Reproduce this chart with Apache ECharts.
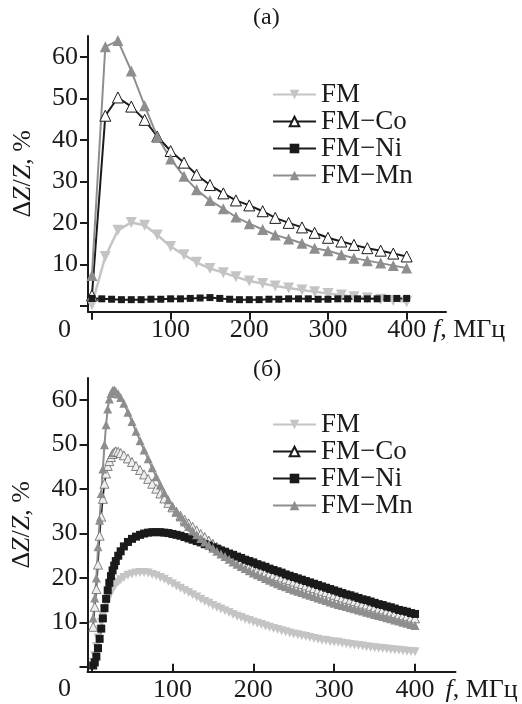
<!DOCTYPE html>
<html>
<head>
<meta charset="utf-8">
<script src="https://cdn.jsdelivr.net/npm/echarts@6/dist/echarts.min.js"></script>
<style>
  html, body { margin: 0; padding: 0; background: #fff; }
  #main { width: 522px; height: 704px; }
</style>
</head>
<body>
<div id="main"></div>
<script>
// ---- panel (a): 25 points every ~16.7 MHz, FM-Ni every 12.5 MHz
const topFreq = [0,17,33,50,67,83,100,117,133,150,167,183,200,217,233,250,267,283,300,317,333,350,367,383,400];
const topFM   = [0.3,11.9,18.2,20.1,19.4,17.1,14.3,12.3,10.5,9,8,7,6,5.4,4.8,4.3,3.8,3.4,3.0,2.6,2.2,1.9,1.6,1.3,1.0];
const topCo   = [2.5,45.8,50.2,48,44.8,40.8,37.3,34.5,31.6,29.1,27.1,25.4,24.2,22.8,21.2,20,18.9,17.6,16.4,15.5,14.7,13.9,13.3,12.6,11.9];
const topMn   = [7.3,62.4,63.9,56.6,48.2,40.8,35.4,31.2,28,25.4,23.4,21.4,19.8,18.4,17.1,16.1,15.1,13.9,13.3,12.3,11.5,10.9,10.3,9.7,9.1];
const topNiFreq = [0,12.5,25,37.5,50,62.5,75,87.5,100,112.5,125,137.5,150,162.5,175,187.5,200,212.5,225,237.5,250,262.5,275,287.5,300,312.5,325,337.5,350,362.5,375,387.5,400];
const topNi   = [1.8,1.7,1.6,1.5,1.5,1.5,1.6,1.6,1.7,1.7,1.8,1.9,2.0,1.8,1.6,1.5,1.5,1.5,1.6,1.6,1.7,1.7,1.7,1.6,1.6,1.7,1.7,1.7,1.7,1.7,1.8,1.8,1.8];

// ---- panel (б): dense sweep
const botFreq = [2,4,6,8,10,12,14,16,18,20,22,24,26,28,30,
  33,36,
  40,45,50,55,60,65,70,75,80,85,90,95,
  100,105,110,115,120,125,130,135,140,145,
  150,155,160,165,170,175,180,185,190,195,
  200,205,210,215,220,225,230,235,240,245,
  250,255,260,265,270,275,280,285,290,295,
  300,305,310,315,320,325,330,335,340,345,
  350,355,360,365,370,375,380,385,390,395,
  400];
const botFM = [1,2.5,4.5,6.5,8.3,10,11.5,12.8,14,15,15.9,16.7,17.4,18,18.5,
  19.1,19.6,
  20.1,20.6,20.9,21.1,21.2,21.2,21.1,20.8,20.5,20.1,19.7,19.2,
  18.7,18.2,17.7,17.2,16.7,16.2,15.7,15.2,14.7,14.3,
  13.8,13.4,13,12.6,12.2,11.8,11.4,11.1,10.7,10.4,
  10.1,9.8,9.5,9.2,8.9,8.6,8.4,8.1,7.9,7.6,
  7.4,7.2,7,6.8,6.6,6.4,6.2,6,5.9,5.7,
  5.6,5.5,5.3,5.2,5,4.9,4.8,4.7,4.5,4.4,
  4.3,4.2,4.1,4,3.9,3.8,3.7,3.6,3.5,3.45,
  3.4];
const botCo = [9,13.5,17.5,23,29.5,33.8,37.8,41.2,43.5,45.2,46.3,47.2,47.9,48.3,48.5,
  48.4,48.1,
  47.6,46.9,46.1,45.2,44.3,43.3,42.3,41.2,40.1,39,37.9,36.9,
  35.9,34.9,34,33.1,32.3,31.5,30.7,29.9,29.2,28.4,
  27.7,27,26.4,25.8,25.2,24.6,24.1,23.6,23.1,22.6,
  22.2,21.9,21.6,21.3,21,20.7,20.4,20.1,19.8,19.5,
  19.2,18.9,18.6,18.3,18,17.7,17.4,17.1,16.8,16.5,
  16.2,15.9,15.6,15.3,15.1,14.8,14.5,14.2,14,13.7,
  13.4,13.1,12.9,12.6,12.4,12.1,11.8,11.6,11.4,11.1,
  10.9];
const botNi = [0.3,1,2.3,4.2,6.3,8.6,10.9,13.2,15.3,17.2,18.9,20.4,21.7,22.8,23.8,
  25,26,
  27.1,28.1,28.8,29.3,29.7,30,30.2,30.3,30.3,30.3,30.2,30.1,
  29.9,29.7,29.5,29.2,28.9,28.6,28.3,28,27.6,27.3,
  26.9,26.6,26.2,25.9,25.5,25.2,24.8,24.5,24.1,23.8,
  23.5,23.1,22.8,22.5,22.1,21.8,21.5,21.2,20.8,20.5,
  20.2,19.9,19.6,19.3,19,18.7,18.4,18.1,17.8,17.5,
  17.2,16.9,16.6,16.3,16.1,15.8,15.5,15.2,15,14.7,
  14.4,14.1,13.9,13.6,13.4,13.1,12.8,12.6,12.4,12.1,
  11.9];
const botMn = [11,15.5,20,27,33,39,44.5,50,54.5,58,60.3,61.5,62.2,62.3,62,
  61.4,60.6,
  59.3,57.3,55.2,53,50.9,48.8,46.8,44.8,42.8,40.9,39.2,37.6,
  36.2,34.9,33.7,32.6,31.6,30.6,29.7,28.9,28.1,27.4,
  26.7,26,25.4,24.8,24.2,23.6,23.1,22.6,22.1,21.6,
  21.1,20.7,20.3,19.9,19.5,19.1,18.7,18.3,18,17.6,
  17.3,17,16.7,16.4,16.1,15.8,15.5,15.2,14.9,14.6,
  14.3,14.05,13.8,13.55,13.3,13.05,12.8,12.55,12.3,12.05,
  11.8,11.55,11.3,11.05,10.8,10.55,10.3,10.05,9.8,9.55,
  9.3];

const seriesNames = ['FM', 'FM\u2212Co', 'FM\u2212Ni', 'FM\u2212Mn'];
const xTicks = [0, 100, 200, 300, 400];
const xLabels = [100, 200, 300, 400];
const yTicks = [0, 10, 20, 30, 40, 50, 60];
const yLabels = [10, 20, 30, 40, 50, 60];

const FONT = '"Liberation Serif", "Times New Roman", serif';
const INK = '#1a1a1a';
const C_FM = '#c4c4c4', C_MN = '#8e8e8e';
const FS = 26;

const zip = (xs, ys) => xs.map((x, i) => [x, ys[i]]);

const chart = echarts.init(document.getElementById('main'));

function xAxis(gi, inside, gap, margin) {
  return {
    type: 'value', gridIndex: gi, min: -5, max: 450,
    axisLine: { onZero: false, lineStyle: { color: INK, width: 2 } },
    axisTick: { customValues: xTicks, inside: inside, length: 8, lineStyle: { color: INK, width: 2 } },
    axisLabel: { customValues: xLabels, margin: margin, color: INK, fontFamily: FONT, fontSize: FS },
    splitLine: { show: false },
    name: '{i|f}{n|, \u041c\u0413\u0446}', nameLocation: 'end', nameGap: gap,
    nameTextStyle: {
      verticalAlign: 'top', padding: [margin, 0, 0, 0],
      rich: {
        i: { fontFamily: FONT, fontSize: FS, fontStyle: 'italic', color: INK },
        n: { fontFamily: FONT, fontSize: FS, color: INK }
      }
    }
  };
}
function yAxis(gi, min) {
  return {
    type: 'value', gridIndex: gi, min: min, max: 65,
    axisLine: { onZero: false, lineStyle: { color: INK, width: 2 } },
    axisTick: { customValues: yTicks, length: 8, lineStyle: { color: INK, width: 2 } },
    axisLabel: { customValues: yLabels, margin: 10, color: INK, fontFamily: FONT, fontSize: FS },
    splitLine: { show: false },
    name: '{n|\u0394}{i|Z}{n|/}{i|Z}{n|, %}', nameLocation: 'middle', nameGap: 52, nameRotate: 90,
    nameTextStyle: {
      rich: {
        i: { fontFamily: FONT, fontSize: FS, fontStyle: 'italic', color: INK },
        n: { fontFamily: FONT, fontSize: FS, color: INK }
      }
    }
  };
}
function legend(top) {
  return {
    data: seriesNames, orient: 'vertical', left: 272, top: top,
    itemWidth: 43, itemHeight: 12, itemGap: 0, padding: 0,
    selectedMode: false,
    textStyle: { fontFamily: FONT, fontSize: 27, color: INK, lineHeight: 24 }
  };
}

chart.setOption({
  animation: false,
  backgroundColor: '#fff',
  grid: [
    { left: 88, top: 36, width: 358, height: 275.7 },
    { left: 87.5, top: 378, width: 368, height: 293.7 }
  ],
  xAxis: [xAxis(0, false, -13, 5), xAxis(1, true, -10, 5)],
  yAxis: [yAxis(0, -1.4), yAxis(1, -1.1)],
  legend: [legend(81), legend(411)],
  graphic: [
    { type: 'text', left: 253, top: 6, style: { text: '(a)', font: '24px ' + FONT, fill: INK } },
    { type: 'text', left: 253, top: 358, style: { text: '(\u0431)', font: '24px ' + FONT, fill: INK } },
    { type: 'text', left: 58, top: 317, style: { text: '0', font: FS + 'px ' + FONT, fill: INK } },
    { type: 'text', left: 58, top: 676, style: { text: '0', font: FS + 'px ' + FONT, fill: INK } }
  ],
  series: [
    { name: seriesNames[0], type: 'line', xAxisIndex: 0, yAxisIndex: 0, data: zip(topFreq, topFM),
      symbol: 'triangle', symbolRotate: 180, symbolSize: 11,
      lineStyle: { color: C_FM, width: 2.5 }, itemStyle: { color: C_FM } },
    { name: seriesNames[1], type: 'line', xAxisIndex: 0, yAxisIndex: 0, data: zip(topFreq, topCo),
      symbol: 'triangle', symbolSize: 11,
      lineStyle: { color: INK, width: 2 }, itemStyle: { color: '#fff', borderColor: INK, borderWidth: 1 } },
    { name: seriesNames[2], type: 'line', xAxisIndex: 0, yAxisIndex: 0, data: zip(topNiFreq, topNi),
      symbol: 'rect', symbolSize: 7,
      lineStyle: { color: INK, width: 2 }, itemStyle: { color: INK } },
    { name: seriesNames[3], type: 'line', xAxisIndex: 0, yAxisIndex: 0, data: zip(topFreq, topMn),
      symbol: 'triangle', symbolSize: 11,
      lineStyle: { color: C_MN, width: 2 }, itemStyle: { color: C_MN } },

    { name: seriesNames[0], type: 'line', xAxisIndex: 1, yAxisIndex: 1, data: zip(botFreq, botFM),
      symbol: 'triangle', symbolRotate: 180, symbolSize: 9,
      lineStyle: { color: C_FM, width: 2 }, itemStyle: { color: C_FM } },
    { name: seriesNames[1], type: 'line', xAxisIndex: 1, yAxisIndex: 1, data: zip(botFreq, botCo),
      symbol: 'triangle', symbolSize: 9,
      lineStyle: { color: INK, width: 1.5 }, itemStyle: { color: '#eeeeee', borderColor: '#666', borderWidth: 0.8 } },
    { name: seriesNames[2], type: 'line', xAxisIndex: 1, yAxisIndex: 1, data: zip(botFreq, botNi),
      symbol: 'rect', symbolSize: 8,
      lineStyle: { color: INK, width: 2 }, itemStyle: { color: INK } },
    { name: seriesNames[3], type: 'line', xAxisIndex: 1, yAxisIndex: 1, data: zip(botFreq, botMn),
      symbol: 'triangle', symbolSize: 9,
      lineStyle: { color: C_MN, width: 2 }, itemStyle: { color: C_MN } }
  ]
});
</script>
</body>
</html>
